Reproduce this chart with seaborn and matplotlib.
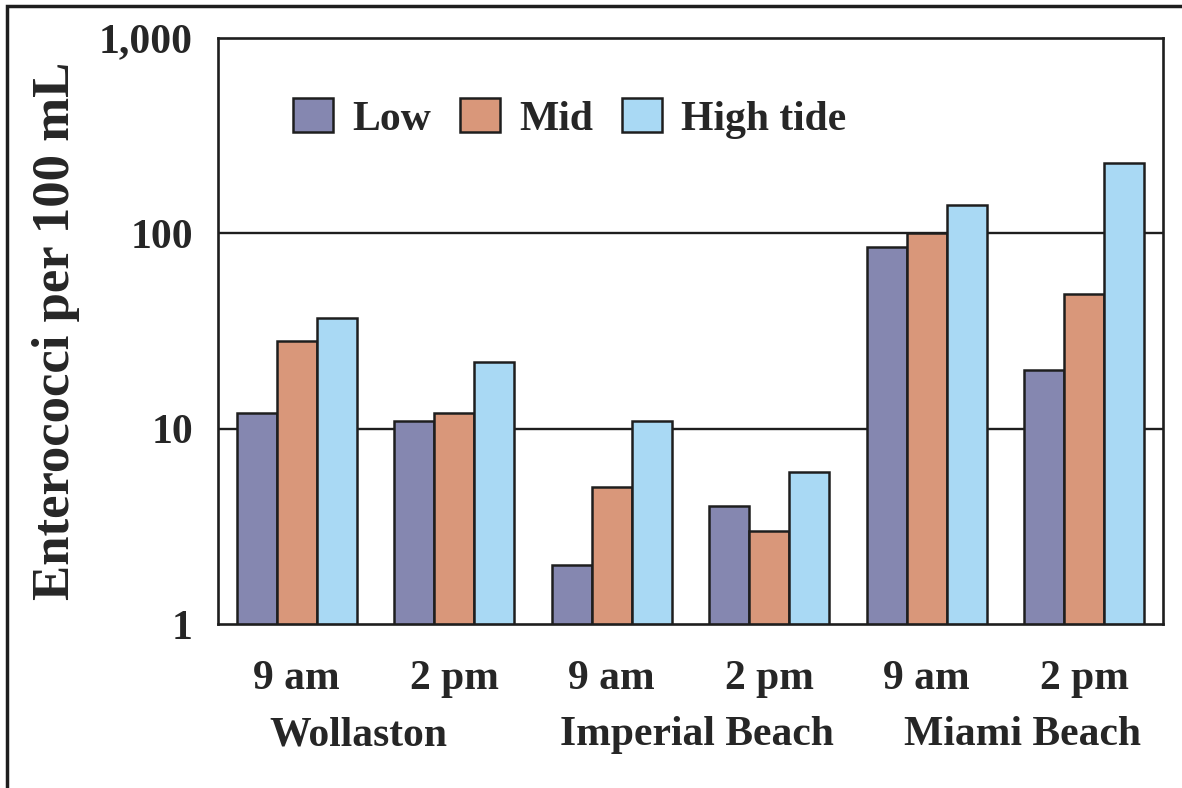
import pandas as pd
import matplotlib
matplotlib.use("Agg")
import matplotlib.pyplot as plt
from matplotlib.patches import Rectangle
import seaborn as sns

# values (Enterococci per 100 mL)
beaches = ["Wollaston", "Imperial Beach", "Miami Beach"]
times = ["9 am", "2 pm"]
tides = ["Low", "Mid", "High tide"]
low = [12, 11, 2, 4, 85, 20]
mid = [28, 12, 5, 3, 100, 49]
high = [37, 22, 11, 6, 140, 230]
colors = ["#8587b0", "#d9977a", "#a9d9f4"]

slots = [f"{b} {t}" for b in beaches for t in times]
df = pd.DataFrame({
    "slot": slots * 3,
    "tide": [tides[0]] * 6 + [tides[1]] * 6 + [tides[2]] * 6,
    "value": low + mid + high,
})

sns.set_style("white")
plt.rcParams["font.family"] = ["Liberation Serif", "DejaVu Serif"]
plt.rcParams["font.weight"] = "bold"

fig = plt.figure(figsize=(11.82, 7.88), dpi=100)
ax = fig.add_axes([0.1844, 0.2081, 0.7995, 0.7437])
ax.set_yscale("log")

sns.barplot(data=df, x="slot", y="value", hue="tide", order=slots,
            hue_order=tides, palette=colors, width=0.76, gap=0,
            edgecolor="#1e1e1e", linewidth=1.8, saturation=1,
            ax=ax, zorder=3)

ax.set_ylim(1, 1000)
ax.set_xlim(-0.5, 5.5)
ax.set_yticks([1, 10, 100, 1000])
ax.set_yticklabels(["1", "10", "100", "1,000"])
ax.yaxis.set_minor_locator(matplotlib.ticker.NullLocator())
ax.set_xticks(range(6))
ax.set_xticklabels(times * 3)
ax.tick_params(axis="both", length=0, labelsize=30)
ax.tick_params(axis="y", pad=18)
ax.tick_params(axis="x", pad=26)
for lab in ax.get_xticklabels() + ax.get_yticklabels():
    lab.set_fontweight("bold")

for y in [10, 100]:
    ax.axhline(y, color="#1e1e1e", linewidth=1.7, zorder=1)
for s in ax.spines.values():
    s.set_color("#1e1e1e")
    s.set_linewidth(1.9)
    s.set_zorder(4)

ax.set_xlabel("")
ax.set_ylabel("Enterococci per 100 mL", fontsize=38, fontweight="bold", labelpad=14)

beach_x = [358, 697, 1022]
for b, px in zip(beaches, beach_x):
    fig.text(px / 1182, 1 - 735 / 788, b, ha="center", va="center",
             fontsize=30, fontweight="bold")

ax.legend(title=None, loc="center left", bbox_to_anchor=(0.079, 0.863), ncol=3,
          frameon=False, borderpad=0, borderaxespad=0,
          handlelength=0.96, handleheight=0.89,
          columnspacing=0.7, handletextpad=0.46, prop={"weight": "bold", "size": 30})

# outer frame of the original figure
fig.patches.append(Rectangle((7 / 1182, -0.05), 1.2, 1 - 6 / 788 + 0.05,
                             transform=fig.transFigure, fill=False,
                             edgecolor="#1e1e1e", linewidth=2.5))

fig.savefig("out.png", dpi=100)
